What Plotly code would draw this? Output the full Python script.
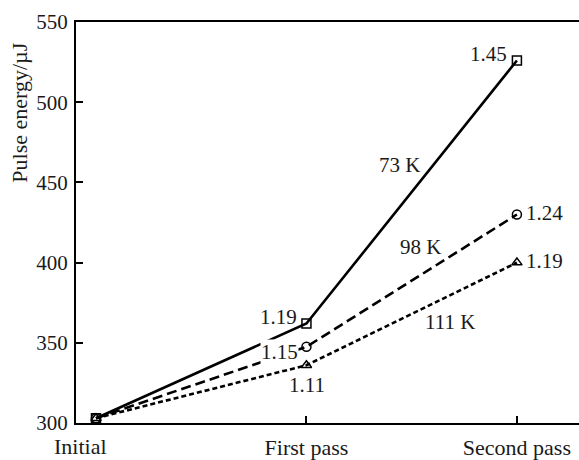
import plotly.graph_objects as go

# Pass stages and pulse energies (µJ) at each crystal temperature
stages = ["Initial", "First pass", "Second pass"]
stage_pos = [0, 1, 2]
e_73k = [303, 362, 526]
e_98k = [303, 347.5, 430]
e_111k = [303, 336, 400]

series = [
    ("73 K", e_73k, "solid", "square-open"),
    ("98 K", e_98k, "10px,5px", "circle-open"),
    ("111 K", e_111k, "5px,3px", "triangle-up-open"),
]

FONT = "Liberation Serif"
INK = "#1a1a1a"

fig = go.Figure()
for name, vals, dash, sym in series:
    fig.add_trace(go.Scatter(
        x=stage_pos, y=vals, mode="lines+markers", name=name,
        line=dict(color="black", width=2.6, dash=dash),
        marker=dict(symbol=sym, size=9, color="black", line=dict(width=1.5)),
        showlegend=False,
    ))

def ratio(a, b):
    return f"{b / a:.2f}"

ann = [
    # gain ratios after each pass
    dict(x=0.865, y=366.3, text=ratio(e_73k[0], e_73k[1])),
    dict(x=0.872, y=344.2, text=ratio(e_98k[0], e_98k[1]), bgcolor="white", borderpad=0),
    dict(x=1.002, y=324.0, text=ratio(e_111k[0], e_111k[1])),
    dict(x=1.867, y=530.3, text=ratio(e_73k[1], e_73k[2])),
    dict(x=2.133, y=430.8, text=ratio(e_98k[1], e_98k[2])),
    dict(x=2.133, y=400.7, text=ratio(e_111k[1], e_111k[2])),
    # temperature labels
    dict(x=1.444, y=461.0, text="73 K"),
    dict(x=1.544, y=410.0, text="98 K"),
    dict(x=1.682, y=362.7, text="111 K"),
]
annotations = [dict(a, xref="x", yref="y", showarrow=False,
                    font=dict(family=FONT, size=21, color=INK)) for a in ann]

# stage label at the left end of the axis, kept clear of the "300" tick label
annotations.append(dict(x=-0.076, y=0, xref="x", yref="paper", yanchor="top",
                        yshift=-10, borderpad=0, text=stages[0], showarrow=False,
                        font=dict(family=FONT, size=22, color=INK)))
# rotated axis title
annotations.append(dict(text="Pulse energy/µJ", showarrow=False, textangle=-90,
                        xref="paper", yref="paper",
                        x=(20 - 76) / (579 - 76), y=1 - (114 - 22) / (429 - 22),
                        xanchor="center", yanchor="middle",
                        font=dict(family=FONT, size=22, color=INK)))

fig.update_layout(
    width=579, height=460,
    margin=dict(l=76, r=0, t=22, b=31),
    paper_bgcolor="white", plot_bgcolor="white",
    font=dict(family=FONT, size=21, color=INK),
    annotations=annotations,
    xaxis=dict(
        range=[-0.095, 2.295], tickvals=stage_pos[1:], ticktext=stages[1:],
        ticks="inside", ticklen=7, tickwidth=1.5, tickcolor="black",
        showline=True, linecolor="black", linewidth=2, mirror=True,
        showgrid=False, zeroline=False, ticklabelstandoff=4,
        tickfont=dict(family=FONT, size=22, color=INK),
    ),
    yaxis=dict(
        range=[300, 550], tickvals=[300, 350, 400, 450, 500, 550],
        ticks="inside", ticklen=7, tickwidth=1.5, tickcolor="black",
        showline=True, linecolor="black", linewidth=2,
        showgrid=False, zeroline=False, ticklabelstandoff=2,
        tickfont=dict(family=FONT, size=21, color=INK),
    ),
)

fig.write_html("out.html")
